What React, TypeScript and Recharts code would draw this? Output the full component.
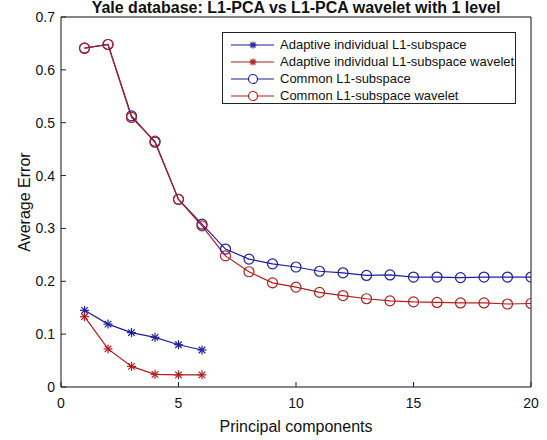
import { LineChart, Line, XAxis, YAxis, CartesianGrid } from 'recharts'

// Principal components and errors
const adaptiveX = [1, 2, 3, 4, 5, 6]
const adaptive = [0.145, 0.119, 0.103, 0.094, 0.08, 0.07]
const adaptiveWavelet = [0.133, 0.072, 0.039, 0.024, 0.023, 0.023]

const commonX = [1, 2, 3, 4, 5, 6, 7, 8, 9, 10, 11, 12, 13, 14, 15, 16, 17, 18, 19, 20]
const common = [0.641, 0.648, 0.513, 0.463, 0.355, 0.308, 0.261, 0.242, 0.233, 0.227, 0.219, 0.216, 0.211, 0.212, 0.208, 0.208, 0.207, 0.208, 0.208, 0.208]
const commonWavelet = [0.641, 0.648, 0.51, 0.465, 0.355, 0.305, 0.248, 0.218, 0.197, 0.189, 0.179, 0.173, 0.167, 0.163, 0.161, 0.16, 0.159, 0.159, 0.157, 0.158]

const xTicks = [0, 5, 10, 15, 20]
const yTicks = [0, 0.1, 0.2, 0.3, 0.4, 0.5, 0.6, 0.7]

const BLUE = '#1e1e9e'
const RED = '#b01e1e'
const FONT = '"Liberation Sans", Arial, sans-serif'

const toPoints = (xs: number[], ys: number[]) => xs.map((x, i) => ({ x, y: ys[i] }))

const series = [
  { name: 'Adaptive individual L1-subspace', color: BLUE, marker: 'star', data: toPoints(adaptiveX, adaptive) },
  { name: 'Adaptive individual L1-subspace wavelet', color: RED, marker: 'star', data: toPoints(adaptiveX, adaptiveWavelet) },
  { name: 'Common L1-subspace', color: BLUE, marker: 'circle', data: toPoints(commonX, common) },
  { name: 'Common L1-subspace wavelet', color: RED, marker: 'circle', data: toPoints(commonX, commonWavelet) },
]

function Star({ cx, cy, color, s = 4.5 }: { cx: number; cy: number; color: string; s?: number }) {
  const d = s * 0.72
  return (
    <g stroke={color} strokeWidth={1.2}>
      <line x1={cx - s} y1={cy} x2={cx + s} y2={cy} />
      <line x1={cx} y1={cy - s} x2={cx} y2={cy + s} />
      <line x1={cx - d} y1={cy - d} x2={cx + d} y2={cy + d} />
      <line x1={cx - d} y1={cy + d} x2={cx + d} y2={cy - d} />
    </g>
  )
}

const markerFor = (marker: string, color: string) => (props: any) => {
  const { cx, cy, index } = props
  if (cx == null || cy == null) return <g key={index} />
  if (marker === 'star') return <Star key={index} cx={cx} cy={cy} color={color} />
  return <circle key={index} cx={cx} cy={cy} r={5} fill="none" stroke={color} strokeWidth={1.2} />
}

function LegendBox() {
  return (
    <div
      style={{
        position: 'absolute',
        left: 222,
        top: 32,
        border: '1px solid #222',
        background: '#fff',
        width: 294,
        height: 72,
        boxSizing: 'border-box',
        padding: '3px 0 0 0',
        fontFamily: FONT,
        fontSize: 13,
        color: '#111',
      }}
    >
      {series.map((s) => (
        <div key={s.name} style={{ display: 'flex', alignItems: 'center', height: 17 }}>
          <svg width={50} height={14} style={{ marginLeft: 7, flex: 'none' }}>
            <line x1={1} y1={7} x2={44} y2={7} stroke={s.color} strokeWidth={1.2} />
            {s.marker === 'star' ? (
              <Star cx={23} cy={7} color={s.color} s={3.5} />
            ) : (
              <circle cx={23} cy={7} r={4.5} fill="#fff" stroke={s.color} strokeWidth={1.2} />
            )}
          </svg>
          <span style={{ whiteSpace: 'nowrap' }}>{s.name}</span>
        </div>
      ))}
    </div>
  )
}

const noTick = () => <g />

export default function App() {
  return (
    <div style={{ position: 'absolute', left: 0, top: 0, width: 547, height: 440, background: '#fff' }}>
      <LineChart width={547} height={440} margin={{ top: 0, right: 0, bottom: 0, left: 0 }}>
        <CartesianGrid stroke="#dadada" strokeWidth={1} />
        <XAxis
          xAxisId="b"
          type="number"
          dataKey="x"
          domain={[0, 20]}
          ticks={xTicks}
          allowDataOverflow
          height={53}
          stroke="#222"
          tickSize={-5}
          tickMargin={16}
          tick={{ fill: '#111', fontSize: 14, fontFamily: FONT }}
          label={{ value: 'Principal components', position: 'insideBottom', offset: 8, fill: '#111', fontSize: 16, fontFamily: FONT }}
        />
        <XAxis xAxisId="t" orientation="top" type="number" domain={[0, 20]} ticks={xTicks} height={17} stroke="#222" tickSize={-5} tick={noTick} />
        <YAxis
          yAxisId="l"
          type="number"
          domain={[0, 0.7]}
          ticks={yTicks}
          width={61}
          stroke="#222"
          tickSize={-5}
          tickMargin={11}
          tickFormatter={(v: number) => (v === 0 ? '0' : String(Math.round(v * 10) / 10))}
          tick={{ fill: '#111', fontSize: 14, fontFamily: FONT }}
          label={{ value: 'Average Error', angle: -90, position: 'insideLeft', offset: 24, fill: '#111', fontSize: 16, fontFamily: FONT, style: { textAnchor: 'middle' } }}
        />
        <YAxis yAxisId="r" orientation="right" type="number" domain={[0, 0.7]} ticks={yTicks} width={16} stroke="#222" tickSize={-5} tick={noTick} />
        {series.map((s) => (
          <Line
            key={s.name}
            xAxisId="b"
            yAxisId="l"
            data={s.data}
            dataKey="y"
            name={s.name}
            stroke={s.color}
            strokeWidth={1.2}
            dot={markerFor(s.marker, s.color)}
            activeDot={false}
            isAnimationActive={false}
          />
        ))}
      </LineChart>
      <div
        style={{
          position: 'absolute',
          left: 61,
          width: 470,
          top: 0,
          textAlign: 'center',
          fontFamily: FONT,
          fontWeight: 'bold',
          fontSize: 16,
          lineHeight: '16px',
          color: '#111',
          whiteSpace: 'nowrap',
        }}
      >
        Yale database: L1-PCA vs L1-PCA wavelet with 1 level
      </div>
      <LegendBox />
    </div>
  )
}
